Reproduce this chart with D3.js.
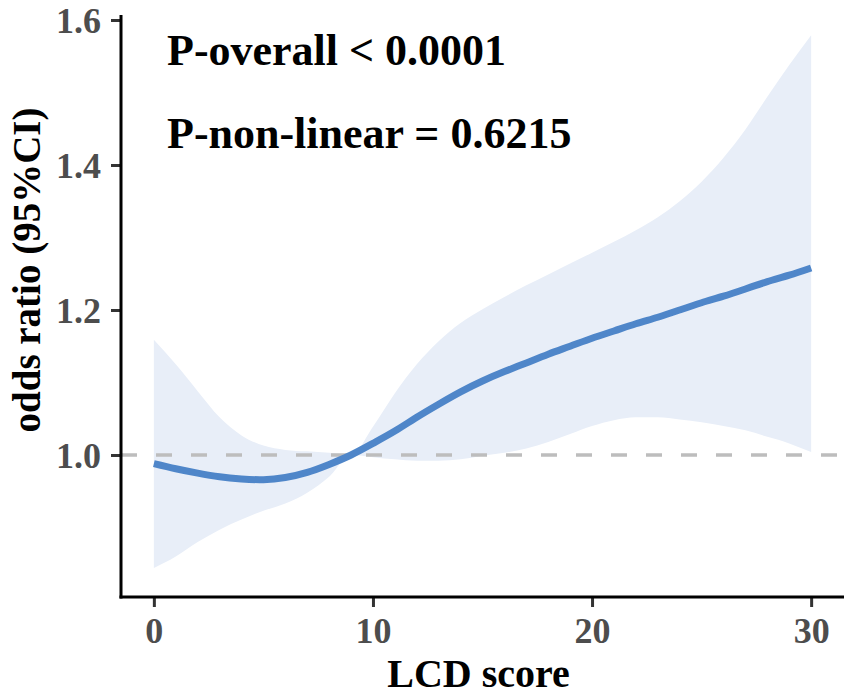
<!DOCTYPE html>
<html>
<head>
<meta charset="utf-8">
<script src="https://cdn.jsdelivr.net/npm/d3@7"></script>
<style>
  html, body { margin: 0; padding: 0; background: #ffffff; }
  svg { display: block; }
  text { font-family: "Liberation Serif", "Times New Roman", serif; font-weight: bold; }
</style>
</head>
<body>
<svg id="chart" width="851" height="695"></svg>
<script>
// ---- data ----
const lcdScore = [0,1,2,3,4,5,6,7,8,9,10,11,12,13,14,15,16,17,18,19,20,21,22,23,24,25,26,27,28,29,30];
const oddsRatio = [0.988,0.981,0.975,0.970,0.967,0.966,0.969,0.976,0.987,1.000,1.016,1.033,1.052,1.070,1.087,1.102,1.115,1.127,1.139,1.150,1.161,1.171,1.181,1.190,1.200,1.210,1.219,1.229,1.239,1.248,1.258];
const ciUpper = [1.159,1.125,1.088,1.052,1.027,1.013,1.007,1.005,1.003,1.000,1.039,1.085,1.125,1.157,1.182,1.201,1.218,1.234,1.249,1.264,1.279,1.294,1.310,1.328,1.350,1.377,1.410,1.449,1.494,1.538,1.579];
const ciLower = [0.844,0.860,0.880,0.897,0.911,0.923,0.933,0.948,0.970,1.000,0.997,0.994,0.992,0.992,0.994,0.999,1.003,1.009,1.018,1.029,1.040,1.048,1.052,1.052,1.049,1.045,1.040,1.034,1.025,1.016,1.004];
const xTicks = [0,10,20,30];
const yTicks = [1.0,1.2,1.4,1.6];
const refLine = 1.0;
const annotations = ["P-overall < 0.0001", "P-non-linear = 0.6215"];
const xTitle = "LCD score";
const yTitle = "odds ratio (95%CI)";

// ---- layout ----
const svg = d3.select("#chart");
const panel = { left: 121, right: 844, top: 15, bottom: 597 };

const x = d3.scaleLinear().domain([-1.5, 31.5]).range([panel.left, panel.right]);
const y = d3.scaleLinear().domain([0.8041, 1.6069]).range([panel.bottom, panel.top]);

const rows = lcdScore.map((v, i) => ({ x: v, or: oddsRatio[i], lo: ciLower[i], hi: ciUpper[i] }));

// ribbon
svg.append("path")
  .datum(rows)
  .attr("fill", "#e8eef8")
  .attr("d", d3.area()
    .x(d => x(d.x))
    .y0(d => y(d.lo))
    .y1(d => y(d.hi))
    .curve(d3.curveMonotoneX));

// reference dashed line
svg.append("line")
  .attr("x1", panel.left).attr("x2", panel.right)
  .attr("y1", y(refLine)).attr("y2", y(refLine))
  .attr("stroke", "#bdbdbd")
  .attr("stroke-width", 3.5)
  .attr("stroke-dasharray", "16 19");

// OR curve
svg.append("path")
  .datum(rows)
  .attr("fill", "none")
  .attr("stroke", "#4f86c9")
  .attr("stroke-width", 7)
  .attr("stroke-linecap", "butt")
  .attr("d", d3.line()
    .x(d => x(d.x))
    .y(d => y(d.or))
    .curve(d3.curveNatural));

// axes
const xAxis = svg.append("g")
  .attr("transform", `translate(0,${panel.bottom})`)
  .call(d3.axisBottom(x).tickValues(xTicks).tickFormat(d3.format("d")).tickSize(10).tickPadding(10));
const yAxis = svg.append("g")
  .attr("transform", `translate(${panel.left},0)`)
  .call(d3.axisLeft(y).tickValues(yTicks).tickFormat(d3.format(".1f")).tickSize(10).tickPadding(10));

[xAxis, yAxis].forEach(g => {
  g.select(".domain").remove();
  g.selectAll(".tick line").attr("stroke", "#333333").attr("stroke-width", 3);
  g.selectAll(".tick text")
    .attr("fill", "#4d4d4d")
    .style("font-size", "36px")
    .style("font-family", "'Liberation Serif', 'Times New Roman', serif")
    .style("font-weight", "bold");
});
xAxis.selectAll(".tick text").attr("dy", "0.72em");
yAxis.selectAll(".tick text").attr("dy", "0.34em");

// axis lines
svg.append("line")
  .attr("x1", panel.left).attr("x2", panel.left)
  .attr("y1", panel.top).attr("y2", panel.bottom + 1.5)
  .attr("stroke", "#000").attr("stroke-width", 3);
svg.append("line")
  .attr("x1", panel.left - 1.5).attr("x2", panel.right)
  .attr("y1", panel.bottom).attr("y2", panel.bottom)
  .attr("stroke", "#000").attr("stroke-width", 3);

// annotations
const annY = [65, 148];
annotations.forEach((t, i) => {
  svg.append("text")
    .attr("x", 167).attr("y", annY[i])
    .attr("fill", "#000")
    .style("font-size", "44px")
    .text(t);
});

// axis titles
svg.append("text")
  .attr("x", (panel.left + panel.right) / 2 - 4)
  .attr("y", 687)
  .attr("text-anchor", "middle")
  .attr("fill", "#000")
  .style("font-size", "40px")
  .text(xTitle);

svg.append("text")
  .attr("transform", "translate(40,270) rotate(-90)")
  .attr("text-anchor", "middle")
  .attr("fill", "#000")
  .style("font-size", "39px")
  .text(yTitle);
</script>
</body>
</html>
